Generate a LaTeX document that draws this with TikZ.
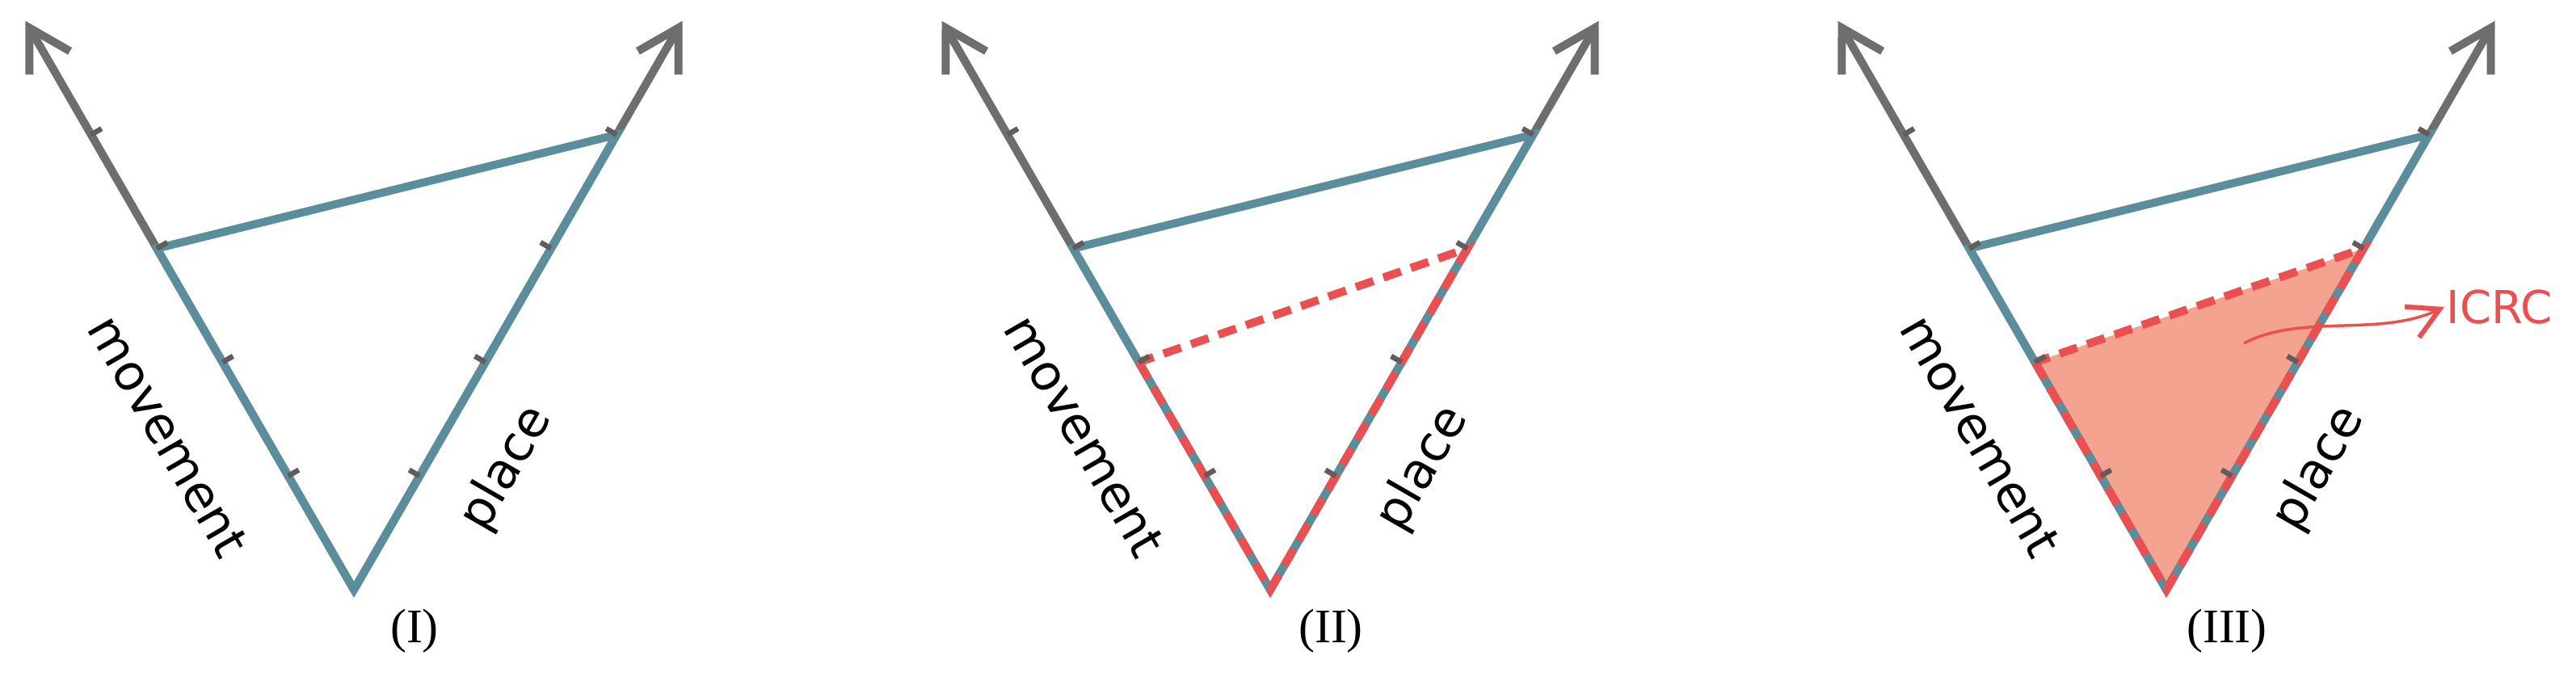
\documentclass[tikz,border=0pt]{standalone}
\usepackage{xcolor}
\usepackage{fontspec}
\usepackage{tikz}
\usetikzlibrary{arrows.meta}

\newfontfamily\axisfont{DejaVu Sans}
\newfontfamily\capfont{Liberation Serif}

\definecolor{axisgrey}{HTML}{6E6E6E}
\definecolor{linkblue}{HTML}{5A8E9C}
\definecolor{icrcred}{HTML}{EB4F4F}
\definecolor{icrcfill}{HTML}{F4A391}
\definecolor{tickgrey}{HTML}{635C5C}

\begin{document}
\begin{tikzpicture}[
  axis/.style={draw=axisgrey, line width=0.1cm,
    -{Straight Barb[length=0.5cm, width=0.58cm]}},
  link/.style={draw=linkblue, line width=0.1cm},
  cut/.style={draw=icrcred, line width=0.1cm, dash pattern=on 0.23cm off 0.13cm},
  area/.style={fill=icrcfill},
  tickmark/.style={draw=tickgrey, line width=0.065cm},
  lbl/.style={font=\axisfont\fontsize{17.5}{20}\selectfont, inner sep=0pt},
  num/.style={font=\capfont\fontsize{17}{19}\selectfont, inner sep=0pt},
  pointer/.style={draw=icrcred, line width=0.035cm,
    -{Straight Barb[length=0.38cm, width=0.42cm, line width=0.06cm]}}
]
\useasboundingbox (0,0) rectangle (31.88,8.37);

% (I)
\begin{scope}[xshift=4.38cm, yshift=1.07cm]
\coordinate (apexI) at (0,0);
\coordinate (moveI) at (120:8.13);
\coordinate (placeI) at (60:8.13);
\draw[axis] (apexI) -- (moveI);
\draw[axis] (apexI) -- (placeI);
\draw[link] (120:4.878) -- (apexI) -- (60:6.504) -- cycle;
\foreach \t in {1,...,4} {
  \draw[tickmark] (120:{\t*1.626}) -- ++(30:0.15);
  \draw[tickmark] (60:{\t*1.626}) -- ++(150:0.15);
}
\node[lbl, rotate=-60] (movI) at (-2.30,1.90) {movement};
\node[lbl, rotate=60] (plI) at (1.89,1.50) {place};
\node[num] (capI) at (0.75,-0.51) {(I)};
\end{scope}

% (II)
\begin{scope}[xshift=15.72cm, yshift=1.07cm]
\coordinate (apexII) at (0,0);
\coordinate (moveII) at (120:8.13);
\coordinate (placeII) at (60:8.13);
\draw[axis] (apexII) -- (moveII);
\draw[axis] (apexII) -- (placeII);
\draw[link] (120:4.878) -- (apexII) -- (60:6.504) -- cycle;
\draw[cut] (120:3.252) -- (apexII) -- (60:4.878) -- cycle;
\foreach \t in {1,...,4} {
  \draw[tickmark] (120:{\t*1.626}) -- ++(30:0.15);
  \draw[tickmark] (60:{\t*1.626}) -- ++(150:0.15);
}
\node[lbl, rotate=-60] (movII) at (-2.30,1.90) {movement};
\node[lbl, rotate=60] (plII) at (1.89,1.50) {place};
\node[num] (capII) at (0.75,-0.51) {(II)};
\end{scope}

% (III)
\begin{scope}[xshift=26.81cm, yshift=1.07cm]
\coordinate (apexIII) at (0,0);
\coordinate (moveIII) at (120:8.13);
\coordinate (placeIII) at (60:8.13);
\fill[area] (120:3.252) -- (apexIII) -- (60:4.878) -- cycle;
\draw[axis] (apexIII) -- (moveIII);
\draw[axis] (apexIII) -- (placeIII);
\draw[link] (120:4.878) -- (apexIII) -- (60:6.504) -- cycle;
\draw[cut] (120:3.252) -- (apexIII) -- (60:4.878) -- cycle;
\foreach \t in {1,...,4} {
  \draw[tickmark] (120:{\t*1.626}) -- ++(30:0.15);
  \draw[tickmark] (60:{\t*1.626}) -- ++(150:0.15);
}
\node[lbl, rotate=-60] (movIII) at (-2.30,1.90) {movement};
\node[lbl, rotate=60] (plIII) at (1.89,1.50) {place};
\node[num] (capIII) at (0.75,-0.51) {(III)};
\coordinate (icrcfrom) at (0.96,3.05);
\node[lbl, font=\axisfont\fontsize{16}{18}\selectfont, text=icrcred,
  anchor=west, inner sep=0.5pt] (icrc) at (3.44,3.50) {ICRC};
\draw[pointer] (icrcfrom) .. controls +(28:0.8) and +(205:0.9) .. (icrc.west);
\end{scope}

\end{tikzpicture}
\end{document}
